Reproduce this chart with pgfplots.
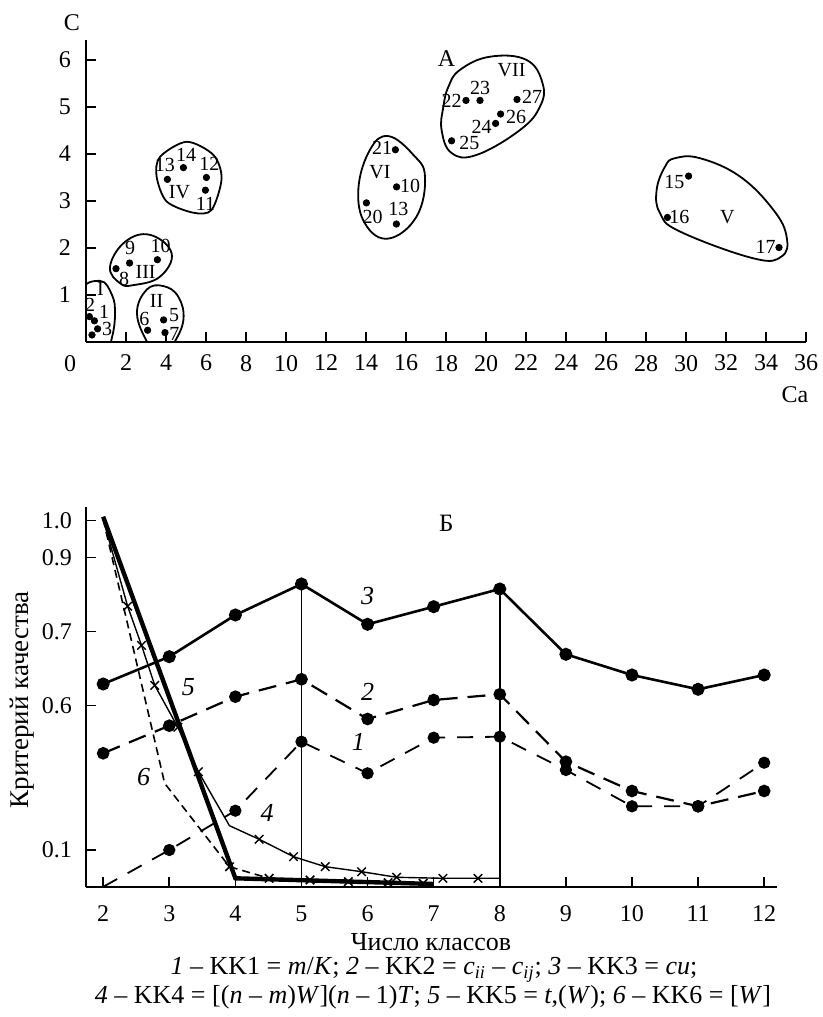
\documentclass[border=0pt]{standalone}
\usepackage{fontspec}
\setmainfont{Liberation Serif}
\usepackage{pgfplots}
\pgfplotsset{compat=1.18}
\begin{document}
\fontsize{11.5}{13}\selectfont
\begin{tikzpicture}[x=1pt,y=1pt]
\useasboundingbox (0,0) rectangle (411.5,508.5);
% ---------- top chart ----------
\begin{axis}[
  at={(43pt,337.5pt)}, anchor=south west,
  x=10pt, y=23.5pt, xmin=0, xmax=36, ymin=0, ymax=6.43,
  axis x line=bottom, axis y line=left, axis line style={-, line width=1pt},
  tick align=inside, major tick length=5pt, tick style={line width=0.8pt, black},
  xtick={2,4,...,36}, ytick={1,...,6},
  extra x ticks={0}, extra x tick style={major tick length=0pt, xticklabel style={xshift=-8pt}},
  /pgf/number format/assume math mode=true,
  tick label style={font=\fontsize{12}{13}\selectfont},
  xticklabel style={yshift=-2.5pt},
  yticklabel style={xshift=-3.5pt},
]
\addplot[only marks, mark=*, mark size=1.6pt] coordinates {
 (0.17,0.54) (0.42,0.45) (0.58,0.28) (0.3,0.15)
 (3.08,0.25) (3.88,0.47) (3.95,0.2)
 (1.5,1.56) (2.18,1.68) (3.57,1.75)
 (4.07,3.46) (4.87,3.71) (6.02,3.5) (5.97,3.23)
 (15.47,4.09) (15.53,3.30) (14.02,2.96) (15.52,2.51)
 (19.0,5.14) (19.7,5.14) (21.55,5.16) (20.73,4.85) (20.48,4.65) (18.28,4.28)
 (30.13,3.53) (29.07,2.65) (34.65,2.01)};
% cluster outlines
\draw[line width=0.9pt] plot[smooth cycle, tension=0.7] coordinates {(-0.3,1.0) (0.7,1.3) (1.3,1.0) (1.45,0.6) (1.3,0.1) (0.9,-0.3) (-0.3,-0.3)};
\draw[line width=0.9pt] plot[smooth cycle, tension=0.7] coordinates {(3.12,-0.05) (2.55,0.6) (3.03,1.11) (3.87,1.19) (4.62,0.96) (4.87,0.47) (4.37,-0.05) (3.8,-0.4)};
\draw[line width=0.9pt] plot[smooth cycle, tension=0.7] coordinates {(1.2,1.6) (1.95,2.13) (3.2,2.28) (4.28,1.89) (3.7,1.39) (2.37,1.21) (1.7,1.25)};
\draw[line width=0.9pt] plot[smooth cycle, tension=0.5] coordinates {(3.7,3.94) (5.03,4.26) (6.37,3.98) (6.78,3.48) (6.28,2.81) (5.37,2.75) (4.03,2.99) (3.53,3.52)};
\draw[line width=0.9pt] plot[smooth cycle, tension=0.7] coordinates {(15.12,4.38) (16.37,3.98) (16.95,3.52) (16.53,2.67) (15.12,2.2) (13.95,2.52) (13.62,3.27) (14.2,4.09)};
\draw[line width=0.9pt] plot[smooth cycle, tension=0.7] coordinates {(18.7,5.79) (20.2,6.07) (22.03,6.0) (22.83,5.5) (22.7,5.01) (21.7,4.51) (19.53,3.98) (18.28,4.02) (17.78,4.51) (17.87,5.01) (18.12,5.43)};
\draw[line width=0.9pt] plot[smooth cycle, tension=0.7] coordinates {(28.95,3.73) (29.45,3.91) (30.7,3.91) (32.7,3.52) (34.37,2.81) (35.03,2.24) (34.78,1.82) (33.37,1.78) (29.7,2.35) (28.7,2.74) (28.53,3.23)};
% labels
\begin{scope}[every node/.style={font=\fontsize{10}{11}\selectfont, inner sep=0pt}]
\node at (axis cs:0.2,0.8) {2}; \node at (axis cs:0.9,0.64) {1}; \node at (axis cs:1.05,0.27) {3}; \node at (axis cs:0.72,1.12) {I};
\node at (axis cs:2.92,0.49) {6}; \node at (axis cs:4.4,0.57) {5}; \node at (axis cs:4.42,0.17) {7}; \node at (axis cs:3.53,0.87) {II};
\node at (axis cs:1.9,1.34) {8}; \node at (axis cs:2.2,2.01) {9}; \node at (axis cs:3.73,2.04) {10}; \node at (axis cs:2.98,1.5) {III};
\node at (axis cs:3.94,3.77) {13}; \node at (axis cs:5.0,3.98) {14}; \node at (axis cs:6.17,3.8) {12}; \node at (axis cs:5.97,2.94) {11}; \node at (axis cs:4.67,3.19) {IV};
\node at (axis cs:14.8,4.12) {21}; \node at (axis cs:16.2,3.32) {10}; \node at (axis cs:14.33,2.67) {20}; \node at (axis cs:15.62,2.82) {13}; \node at (axis cs:14.7,3.62) {VI};
\node at (axis cs:18.28,5.14) {22}; \node at (axis cs:19.7,5.4) {23}; \node at (axis cs:22.3,5.22) {27}; \node at (axis cs:21.5,4.79) {26}; \node at (axis cs:19.78,4.58) {24}; \node at (axis cs:19.17,4.24) {25}; \node at (axis cs:21.28,5.79) {VII};
\node at (axis cs:29.42,3.41) {15}; \node at (axis cs:29.67,2.65) {16}; \node at (axis cs:33.98,2.03) {17}; \node at (axis cs:32.07,2.65) {V};
\node[font=\fontsize{12}{13}\selectfont] at (axis cs:18.03,6.04) {А};
\end{scope}
\end{axis}
\node[inner sep=0pt, font=\fontsize{12}{13}\selectfont] at (36,497) {C};
\node[inner sep=0pt, font=\fontsize{12}{13}\selectfont] at (397.5,311) {Ca};
% ---------- bottom chart ----------
\begin{axis}[
  at={(43pt,64.85pt)}, anchor=south west,
  x=33.05pt, y=0.5pt, xmin=1.74, xmax=12.19, ymin=0, ymax=380.6,
  axis x line=bottom, axis y line=left, axis line style={-, line width=1pt},
  tick align=inside, major tick length=5pt, tick style={line width=0.8pt, black},
  xtick={2,...,12},
  ytick={37.3,181.6,255.6,329.6,366.6}, yticklabels={0.1,0.6,0.7,0.9,1.0},
  /pgf/number format/assume math mode=true,
  tick label style={font=\fontsize{12}{13}\selectfont},
  xticklabel style={yshift=-5pt},
  yticklabel style={xshift=-3pt},
]
\addplot[line width=0.8pt] coordinates {(5,0) (5,303.3)};
\addplot[line width=0.8pt] coordinates {(8,0) (8,298.3)};
% 3
\addplot[line width=1.3pt, mark=*, mark size=2.6pt] coordinates {(2,203.3)(3,230.6)(4,272.3)(5,303.3)(6,263)(7,280.6)(8,298.3)(9,233)(10,212.3)(11,198)(12,212.3)};
% 2
\addplot[line width=1.1pt, dash pattern=on 9pt off 5pt, mark=*, mark size=2.6pt, mark options={solid}] coordinates {(2,134)(3,161.6)(4,190.6)(5,208)(6,168.3)(7,187.3)(8,193)(9,125.6)(10,96.3)(11,81)(12,96.3)};
% 1
\addplot[line width=0.9pt, dash pattern=on 8pt off 6pt, mark=*, mark size=2.6pt, mark options={solid}, mark indices={2,...,11}] coordinates {(2,0.5)(3,37.3)(4,76.6)(5,145.6)(6,114)(7,149.6)(8,150.6)(9,117.3)(10,81)(11,81)(12,124.6)};
% thick
\addplot[line width=2.2pt] coordinates {(2,370.6)(4,9)(7,3.3)};
% thin with crosses
\addplot[line width=0.7pt, mark=x, mark size=3pt, mark indices={2,3,4,5,6,8,9,10,11,12,13,14}] coordinates {(2,368)(2.37,281)(2.58,242)(2.78,202)(3.13,160)(3.44,115.6)(3.91,61.6)(4.36,48)(4.88,30.6)(5.36,20.6)(5.91,15.6)(6.44,10)(7.14,9)(7.67,9)(8,9)};
% dashed 6
\addplot[line width=0.8pt, dash pattern=on 4pt off 2.5pt, mark=x, mark size=3pt, mark options={solid}, mark indices={3,4,5,6,7,8}] coordinates {(2,368)(2.93,104)(3.91,20.6)(4.51,9)(5.13,7.3)(5.71,5.6)(6.31,4.6)(6.84,4)};
\begin{scope}[every node/.style={font=\fontsize{13}{14}\selectfont\itshape, inner sep=0pt}]
\node at (axis cs:6.0,291) {3};
\node at (axis cs:6.0,195.6) {2};
\node at (axis cs:5.86,145.6) {1};
\node at (axis cs:3.29,200.6) {5};
\node at (axis cs:2.61,110.6) {6};
\node at (axis cs:4.48,74) {4};
\node[font=\fontsize{12.5}{13}\selectfont] at (axis cs:7.19,364) {Б};
\end{scope}
\end{axis}
\begin{scope}[every node/.style={inner sep=0pt, font=\fontsize{13}{14}\selectfont}]
\node[rotate=90, font=\fontsize{13.5}{15}\selectfont] at (11,158.5) {Критерий качества};
\node at (215.5,37.5) {Число классов};
\node at (217,23.6) {\textit{1} – KK1 = \textit{m}/\textit{K}; \textit{2} – KK2 = \textit{c}\textsubscript{\textit{ii}} – \textit{c}\textsubscript{\textit{ij}}; \textit{3} – KK3 = \textit{cu};};
\node at (216.5,9.8) {\textit{4} – KK4 = [(\textit{n} – \textit{m})\textit{W}](\textit{n} – 1)\textit{T}; \textit{5} – KK5 = \textit{t},(\textit{W}); \textit{6} – KK6 = [\textit{W}]};
\end{scope}
\end{tikzpicture}
\end{document}
